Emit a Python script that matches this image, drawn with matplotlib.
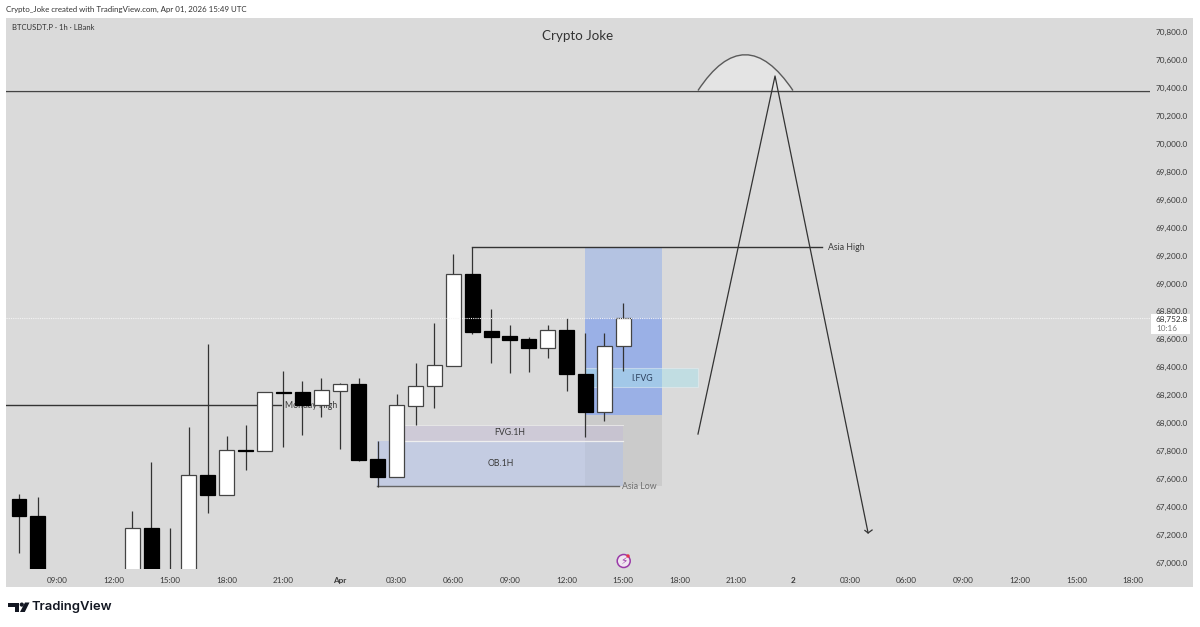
#!/usr/bin/env python3
"""BTCUSDT.P 1h chart with the Crypto Joke markup, TradingView look."""

import matplotlib
matplotlib.use('Agg')
import matplotlib.pyplot as plt
from matplotlib.patches import PathPatch, Polygon, Rectangle, Circle
from matplotlib.path import Path

plt.rcParams['font.family'] = ['Lato', 'DejaVu Sans']

# ── Candles: x is hours from Apr 01 00:00 ─────────────────────────────────────
hours = [-17, -16, -11, -10, -9, -8, -7, -6, -5, -4, -3, -2, -1, 0, 1, 2, 3,
         4, 5, 6, 7, 8, 9, 10, 11, 12, 13, 14, 15]
opens = [67455, 67335, 66800, 67250, 66900, 66800, 67627, 67484, 67808, 67799,
         68225, 68225, 68130, 68232, 68283, 67741, 67615, 68125, 68266, 68409,
         69066, 68658, 68624, 68600, 68536, 68665, 68352, 68082, 68550]
closes = [67335, 66800, 67250, 66800, 66850, 67627, 67484, 67808, 67799, 68221,
          68219, 68128, 68235, 68283, 67736, 67612, 68128, 68268, 68414, 69066,
          68653, 68619, 68595, 68536, 68665, 68352, 68082, 68552, 68753]
highs = [67490, 67470, 67369, 67720, 67252, 67973, 68567, 67908, 67985, 68225,
         68371, 68302, 68325, 68290, 68325, 67870, 68209, 68429, 68719, 69213,
         69259, 68815, 68701, 68619, 68701, 68753, 68643, 68648, 68858]
lows = [67071, 66700, 66700, 66700, 66700, 66700, 67355, 67484, 67665, 67799,
        67832, 67913, 68046, 67815, 67727, 67545, 67615, 67985, 68111, 68409,
        68638, 68429, 68357, 68368, 68464, 68232, 67899, 68016, 68376]

# ── Axis labels ───────────────────────────────────────────────────────────────
price_ticks = [70800, 70600, 70400, 70200, 70000, 69800, 69600, 69400, 69200,
               69000, 68800, 68600, 68400, 68200, 68000, 67800, 67600, 67400,
               67200, 67000]
time_ticks = [-15, -12, -9, -6, -3, 0, 3, 6, 9, 12, 15, 18, 21, 24, 27, 30, 33,
              36, 39, 42]
time_labels = ['09:00', '12:00', '15:00', '18:00', '21:00', 'Apr', '03:00',
               '06:00', '09:00', '12:00', '15:00', '18:00', '21:00', '2',
               '03:00', '06:00', '09:00', '12:00', '15:00', '18:00']

# ── Markup levels ─────────────────────────────────────────────────────────────
last_price = 68752.8
top_level = 70374
asia_high = 69259
asia_low = 67550
monday_high = 68128
path_hours = [18.96, 23.04, 27.97]
path_prices = [67922, 70485, 67214]

W, H = 1200, 627
PANEL = '#dadada'
TEXT = '#3a3a3a'
TICK_SIZE = 5.9
LABEL_SIZE = 6.3


def add_rect(ax, x0, x1, p0, p1, colour, alpha=1.0, edge='none', z=1):
    ax.add_patch(Rectangle((x0, p0), x1 - x0, p1 - p0, facecolor=colour,
                           alpha=alpha, edgecolor=edge, linewidth=0.8, zorder=z))


def draw_candles(ax):
    ax.vlines(hours, lows, highs, color='#333333', linewidth=0.9, zorder=4)
    for h, o, c in zip(hours, opens, closes):
        up = c >= o
        ax.bar(h, abs(c - o), bottom=min(o, c), width=0.79,
               color='white' if up else 'black',
               edgecolor='#444444' if up else 'black', linewidth=0.9, zorder=5)


def draw_markup(ax):
    # position tool plus the gray stop zone
    add_rect(ax, 12.99, 17.05, 68059, asia_high, '#b4c3e2')
    add_rect(ax, 12.99, 17.05, 68059, last_price, '#9ab0e6', z=1.1)
    add_rect(ax, 12.99, 17.05, asia_low, 68059, '#cbcbcb')

    add_rect(ax, 1.98, 14.99, asia_low, 67875, '#b0c0ea', alpha=0.5, z=2)
    add_rect(ax, 3.39, 14.99, 67875, 67985, '#c4bcd6', alpha=0.5, z=2)
    ax.plot([3.39, 14.99], [67875, 67875], color='#efefef', linewidth=0.9, zorder=2.1)
    ax.plot([3.39, 14.99], [67985, 67985], color='#e6e6e6', linewidth=0.7, zorder=2.1)
    add_rect(ax, 12.99, 18.96, 68259, 68395, '#aae0ea', alpha=0.5,
             edge='#e8f0f2', z=2)

    ax.axhline(top_level + 8, color='#f2f2f2', linewidth=0.8, zorder=2)
    ax.axhline(top_level, color='#444444', linewidth=1.0, zorder=3)
    ax.axhline(last_price, color='#f4f4f4', linewidth=0.8, linestyle=(0, (1, 1)), zorder=6)

    # arc on top of the 70.4k level
    arc = Path([(18.96, 70381), (21.45, 70893), (23.99, 70381)],
               [Path.MOVETO, Path.CURVE3, Path.CURVE3])
    ax.add_patch(PathPatch(arc, facecolor='#e4e4e4', edgecolor='#5a5a5a',
                           linewidth=1.0, zorder=2.5))

    ax.plot([7, 25.55], [asia_high, asia_high], color='#333333', linewidth=1.0, zorder=3)
    ax.text(25.85, asia_high, 'Asia High', fontsize=LABEL_SIZE, color=TEXT, va='center', zorder=7)

    ax.plot([-17.69, -3.1], [monday_high, monday_high], color='#333333',
            linewidth=1.0, zorder=3)
    ax.text(-2.9, monday_high, 'Monday High', fontsize=LABEL_SIZE, color=TEXT, va='center', zorder=3)

    ax.plot([1.98, 14.8], [asia_low, asia_low], color='#666666', linewidth=1.0, zorder=3)
    ax.text(14.94, asia_low, 'Asia Low', fontsize=LABEL_SIZE, color='#6d6d6d', va='center', zorder=7)

    ax.text(9.0, 67930, 'FVG.1H', fontsize=LABEL_SIZE, color=TEXT, ha='center', va='center', zorder=7)
    ax.text(8.5, 67708, 'OB.1H', fontsize=LABEL_SIZE, color=TEXT, ha='center', va='center', zorder=7)
    ax.text(16.0, 68323, 'I.FVG', fontsize=LABEL_SIZE, color='#2b3f5c', ha='center', va='center', zorder=7)

    ax.plot(path_hours, path_prices, color='#333333', linewidth=0.9, zorder=6)
    ax.plot([27.8, 27.97, 28.18], [67232, 67214, 67235], color='#333333',
            linewidth=0.9, zorder=6)


def main():
    fig = plt.figure(figsize=(W / 100, H / 100), dpi=100, facecolor='white')

    # pixel canvas for the frame, header and logo
    bg = fig.add_axes([0, 0, 1, 1], zorder=0)
    bg.set_xlim(0, W)
    bg.set_ylim(H, 0)
    bg.axis('off')
    bg.add_patch(Rectangle((6, 18), 1187, 569, facecolor=PANEL, edgecolor='none'))
    bg.text(6, 9, 'Crypto_Joke created with TradingView.com, Apr 01, 2026 15:49 UTC',
            fontsize=5.7, color='#333333', va='center')
    bg.text(12, 27, 'BTCUSDT.P · 1h · LBank', fontsize=5.5, color='#333333', va='center')

    # logo
    bg.add_patch(Polygon([(8, 602.5), (19, 602.5), (19, 612), (14.5, 612), (14.5, 606.5), (8, 606.5)],
                         facecolor='#131722', edgecolor='none'))
    bg.add_patch(Circle((21.8, 604.6), 2.1, facecolor='#131722', edgecolor='none'))
    bg.add_patch(Polygon([(25, 602.5), (29.5, 602.5), (24.8, 612), (20, 612)],
                         facecolor='#131722', edgecolor='none'))
    bg.text(32, 607.2, 'TradingView', fontsize=9.4, color='#131722', va='center',
            family='Inter', fontweight='semibold')

    # price pane, 6..1150 px wide and 18..569 px tall
    ax = fig.add_axes([6 / W, 1 - 569 / H, 1144 / W, 551 / H], zorder=1)
    ax.patch.set_alpha(0)
    ax.set_xlim(-17.69, 42.9)
    ax.set_ylim(66956, 70900)
    for side in ax.spines.values():
        side.set_visible(False)

    ax.yaxis.tick_right()
    ax.set_yticks(price_ticks)
    ax.set_yticklabels([f'{p:,.1f}' for p in price_ticks], fontsize=TICK_SIZE, color=TEXT)
    ax.set_xticks(time_ticks)
    ax.set_xticklabels(time_labels, fontsize=TICK_SIZE, color=TEXT)
    for lab, text in zip(ax.get_xticklabels(), time_labels):
        if text in ('Apr', '2'):
            lab.set_fontweight('bold')
    ax.tick_params(axis='y', length=0, pad=4.3)
    ax.tick_params(axis='x', length=0, pad=5.5)

    draw_markup(ax)
    draw_candles(ax)

    ax.text(0.5, 0.968, 'Crypto Joke', transform=ax.transAxes, fontsize=9.6,
            color='#333333', ha='center', va='center', zorder=8)

    # overlay for things that sit on top of the axes
    top = fig.add_axes([0, 0, 1, 1], zorder=2)
    top.set_xlim(0, W)
    top.set_ylim(H, 0)
    top.axis('off')
    top.patch.set_alpha(0)
    top.add_patch(Rectangle((1151, 313.5), 39, 20.5, facecolor='white', edgecolor='none'))
    top.text(1156, 319, f'{last_price:,.1f}', fontsize=TICK_SIZE, color='#333333', va='center')
    top.text(1156, 328.5, '10:16', fontsize=TICK_SIZE, color='#777777', va='center')

    # bolt marker above the time axis
    top.add_patch(Circle((623.7, 561), 6.5, facecolor='#efe6f0', edgecolor='#9a3aa8',
                         linewidth=1.1))
    top.text(623.7, 561, '⚡', fontsize=7.5, color='#9a3aa8', ha='center', va='center',
             family='DejaVu Sans')
    top.add_patch(Circle((628, 556), 1.7, facecolor='#e8344a', edgecolor='none'))

    fig.savefig('out.png', dpi=100, facecolor='white')
    plt.close(fig)


if __name__ == '__main__':
    main()
